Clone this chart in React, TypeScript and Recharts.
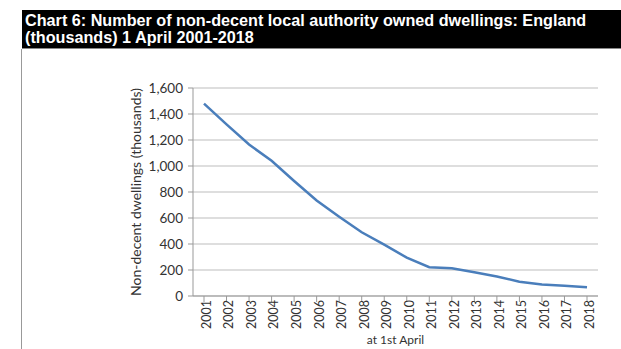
import React from 'react';
import { LineChart, Line, XAxis, YAxis, CartesianGrid, Label } from 'recharts';

const years = ['2001', '2002', '2003', '2004', '2005', '2006', '2007', '2008', '2009', '2010',
  '2011', '2012', '2013', '2014', '2015', '2016', '2017', '2018'];
const dwellings = [1480, 1320, 1165, 1040, 885, 735, 610, 490, 395, 295,
  222, 213, 182, 150, 110, 88, 78, 67];
const yTicks = [0, 200, 400, 600, 800, 1000, 1200, 1400, 1600];

const data = years.map((year, i) => ({ year, value: dwellings[i] }));

const font = 'Lato, "Open Sans", sans-serif';

const App: React.FC = () => {
  return (
    <div style={{ position: 'absolute', left: 0, top: 0, width: 621, height: 349, background: '#fff', overflow: 'hidden' }}>
      {/* title bar */}
      <div style={{
        position: 'absolute', left: 22, top: 10, width: 599, height: 39, background: '#000',
        color: '#fff', fontFamily: '"Liberation Sans", Arial, sans-serif', fontWeight: 'bold',
        fontSize: 16.2, lineHeight: '17px', padding: '2px 0 0 3px', boxSizing: 'border-box',
        borderBottom: '1px solid #888'
      }}>
        Chart 6: Number of non-decent local authority owned dwellings: England<br />
        (thousands) 1 April 2001-2018
      </div>
      <div style={{ position: 'absolute', left: 21, top: 49, width: 1, height: 300, background: '#999' }} />
      <LineChart width={621} height={349} data={data}
        margin={{ top: 88, right: 23, bottom: 4, left: 133 }}>
        <CartesianGrid vertical={false} stroke="#bdbdbd" />
        <XAxis dataKey="year" interval={0} height={49} angle={-90} textAnchor="end"
          padding={{ left: 11, right: 11 }}
          tick={{ fontSize: 12.5, fill: '#333', fontFamily: font, dy: -4, dx: -2 }}
          tickLine={{ stroke: '#999' }} axisLine={{ stroke: '#999' }} tickSize={6}>
          <Label value="at 1st April" position="insideBottom" offset={1}
            style={{ fontSize: 12, fill: '#333', fontFamily: font }} />
        </XAxis>
        <YAxis domain={[0, 1600]} ticks={yTicks} width={60} interval={0}
          tickFormatter={(v: number) => v.toLocaleString('en-GB')}
          tick={{ fontSize: 13.5, fill: '#333', fontFamily: font, dx: -3 }}
          tickLine={{ stroke: '#999' }} axisLine={{ stroke: '#999' }} tickSize={5}>
          <Label value="Non-decent dwellings (thousands)" angle={-90} position="insideLeft"
            offset={3} style={{ fontSize: 14, fill: '#333', fontFamily: font, textAnchor: 'middle' }} />
        </YAxis>
        <Line type="linear" dataKey="value" stroke="#4a7ebb" strokeWidth={2.5}
          dot={false} isAnimationActive={false} />
      </LineChart>
    </div>
  );
};

export default App;
